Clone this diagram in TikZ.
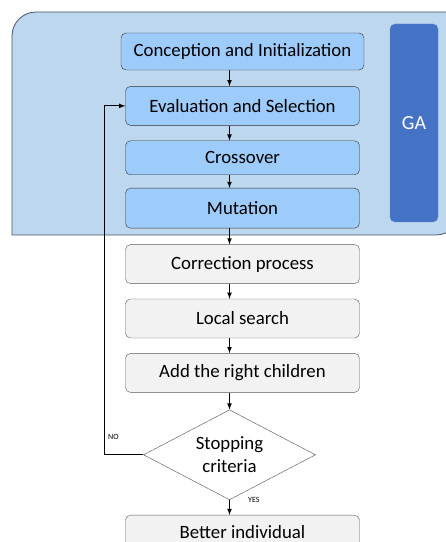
\documentclass[tikz,border=0pt]{standalone}
\usepackage{fontspec}
\setmainfont{Carlito}
\usetikzlibrary{positioning,shapes.geometric}

\definecolor{gaback}{HTML}{BDD7EE}
\definecolor{gaedge}{HTML}{44546A}
\definecolor{stepblue}{HTML}{9DCBFA}
\definecolor{gadark}{HTML}{4472C4}
\definecolor{stepgray}{HTML}{F2F2F2}

\begin{document}
\begin{tikzpicture}
                [x=1pt,y=1pt,
                bluebox/.style={rectangle,rounded corners=5pt,draw=black!80,fill=stepblue,
                        minimum width=234pt,minimum height=39pt,font=\fontsize{18.8}{22}\selectfont},
                graybox/.style={rectangle,rounded corners=5pt,draw=black!65,fill=stepgray,
                        minimum width=234pt,minimum height=39pt,font=\fontsize{18.8}{22}\selectfont},
                arr/.style={->,>=latex,line width=1.1pt},
                tag/.style={font=\fontsize{8}{9}\selectfont,inner sep=0pt}]
                \useasboundingbox (0,0) rectangle (446,542);
                % GA area
                \draw[draw=gaedge,fill=gaback,line width=0.8pt] (12,307) -- (12,506)
                        arc[start angle=180,end angle=90,radius=24] -- (460,530) -- (460,331)
                        arc[start angle=0,end angle=-90,radius=24] -- cycle;
                \node[rectangle,rounded corners=5pt,draw=gadark!80,fill=gadark,text=white,
                        minimum width=48pt,minimum height=198pt,font=\fontsize{20}{24}\selectfont]
                        (ga) at (414,419) {GA};
                % steps
                \node[bluebox,minimum width=243pt,minimum height=37pt] (conc) at (242.5,490.5)
                        {Conception and Initialization};
                \node[bluebox] (eval)[below=16pt of conc]{Evaluation and Selection};
                \node[bluebox,minimum height=34pt] (cross)[below=15pt of eval]{Crossover};
                \node[bluebox,minimum height=40pt] (mut)[below=13pt of cross]{Mutation};
                \node[graybox] (corr)[below=16pt of mut]{Correction process};
                \node[graybox] (local)[below=15pt of corr]{Local search};
                \node[graybox] (add)[below=15pt of local]{Add the right children};
                \node[diamond,draw=black!70,fill=white,inner sep=0pt,minimum width=172pt,
                        minimum height=90pt,xshift=-13pt] (stop)[below=17pt of add]{};
                \node[font=\fontsize{18.8}{23}\selectfont,align=center] (stoptext) at (stop.center)
                        {Stopping\\criteria};
                \node[graybox,minimum height=34pt,xshift=13pt] (best)[below=15pt of stop]{Better individual};
                % connectors
                \draw[arr] (conc.south -| stop.north) -- (eval.north -| stop.north);
                \draw[arr] (eval.south -| stop.north) -- (cross.north -| stop.north);
                \draw[arr] (cross.south -| stop.north) -- (mut.north -| stop.north);
                \draw[arr] (mut.south -| stop.north) -- (corr.north -| stop.north);
                \draw[arr] (corr.south -| stop.north) -- (local.north -| stop.north);
                \draw[arr] (local.south -| stop.north) -- (add.north -| stop.north);
                \draw[arr] (add.south -| stop.north) -- (stop.north);
                \draw[arr] (stop.south) -- (best.north -| stop.south);
                \draw[arr] (stop.west) -- ++(-39,0) |- (eval.west);
                \node[tag,anchor=west] (no) at (108,105) {NO};
                \node[tag,anchor=west] (yes) at (248,42) {YES};
            \end{tikzpicture}
\end{document}
